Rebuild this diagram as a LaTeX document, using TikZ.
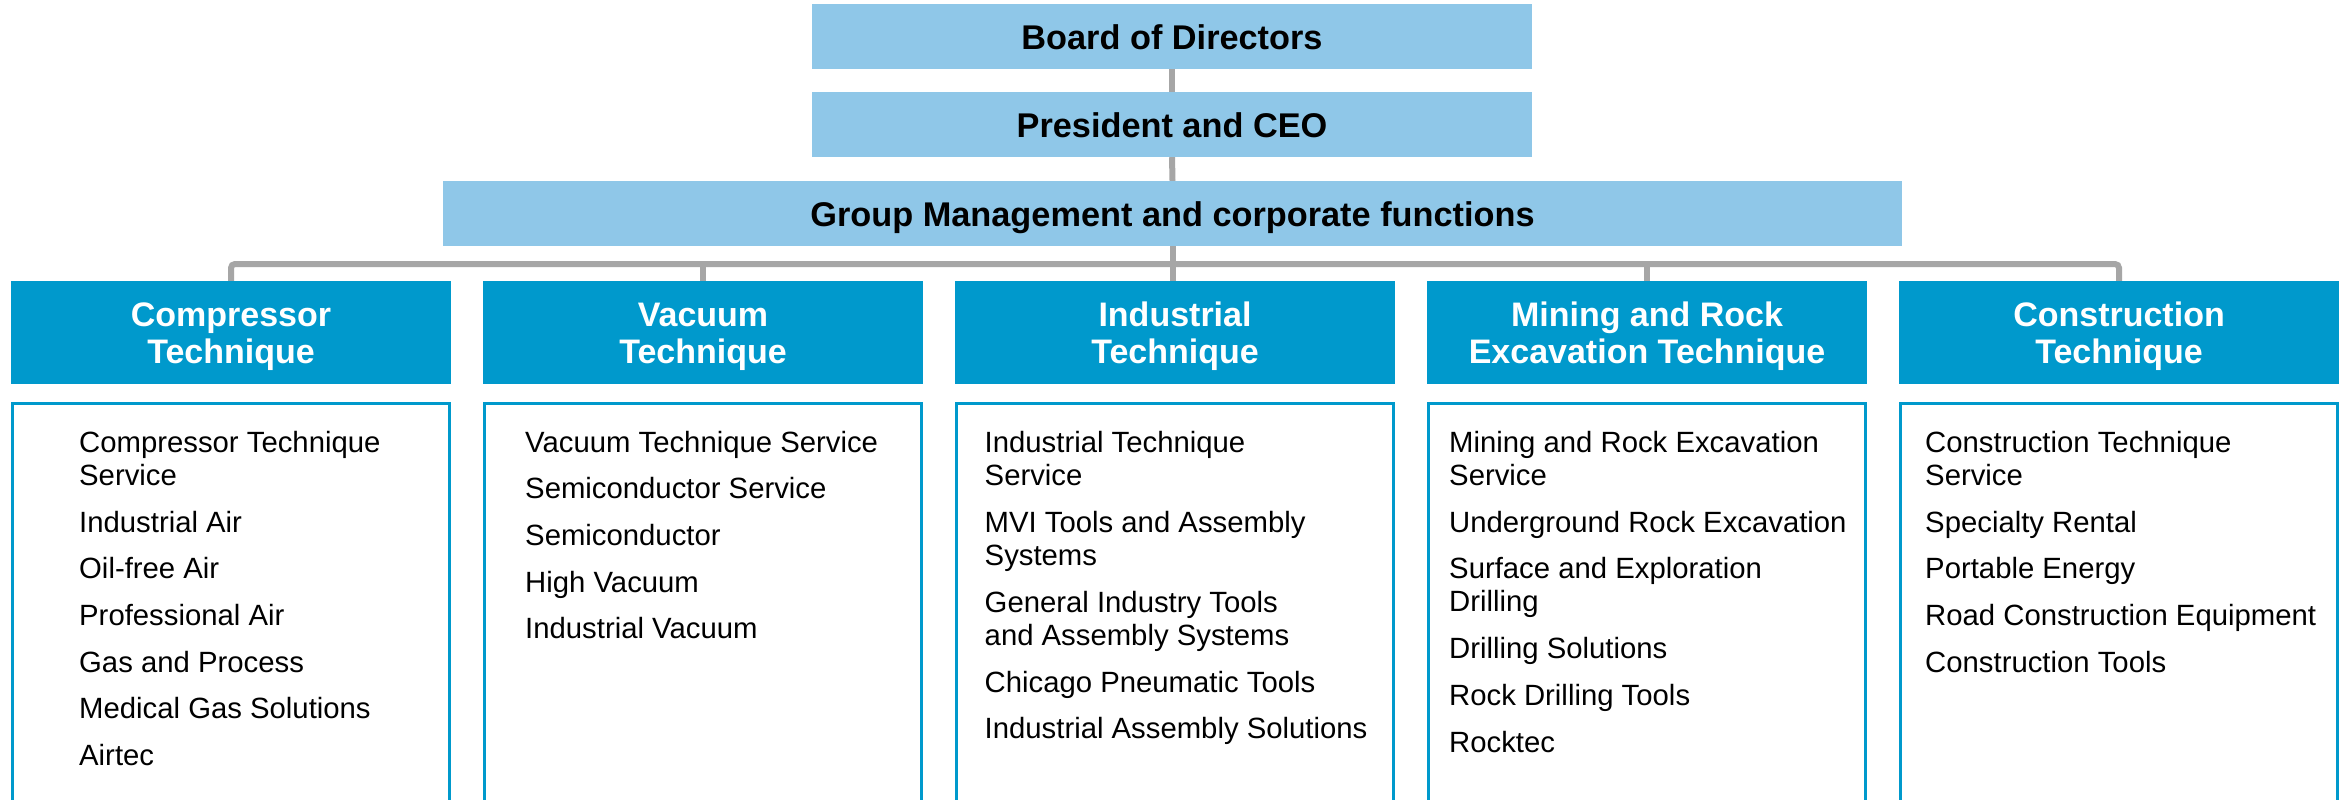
\documentclass[tikz,border=0pt]{standalone}
\usepackage{fontspec}
\setmainfont{Liberation Sans}
\usetikzlibrary{backgrounds}
\definecolor{lightblue}{HTML}{8FC7E8}
\definecolor{darkblue}{HTML}{0099CC}
\definecolor{conngray}{HTML}{A6A6A6}
\begin{document}
\begin{tikzpicture}[x=1pt,y=-1pt,
  topbox/.style={fill=lightblue, draw=none, inner sep=0pt, minimum width=720pt, minimum height=65pt},
  toptext/.style={anchor=base, inner sep=0pt, font=\fontsize{34.3}{37}\selectfont\bfseries, text=black},
  divhead/.style={fill=darkblue, draw=none, inner sep=0pt, minimum width=440pt, minimum height=103pt},
  headtext/.style={anchor=base, inner sep=0pt, font=\fontsize{34}{37}\selectfont\bfseries, text=white},
  listbox/.style={draw=darkblue, line width=3pt, fill=none},
  itemtext/.style={anchor=base west, inner sep=0pt, font=\fontsize{29.3}{33}\selectfont, text=black},
  conn/.style={draw=conngray, line width=6pt}
]
\useasboundingbox (0,0) rectangle (2352,800);
\clip (0,0) rectangle (2352,800);

% top boxes
\node[topbox] (board) at (1172,36.5) {};
\node[topbox] (ceo) at (1172,124.5) {};
\node[topbox, minimum width=1459pt] (gm) at (1172.5,213.5) {};

% division headers
\node[divhead] (h1) at (231,332.5) {};
\node[divhead] (h2) at (703,332.5) {};
\node[divhead] (h3) at (1175,332.5) {};
\node[divhead] (h4) at (1647,332.5) {};
\node[divhead] (h5) at (2119,332.5) {};

% connectors (behind the boxes)
\coordinate (bar) at (0,264);
\begin{pgfonlayer}{background}
\fill[white] (0,0) rectangle (2352,800);
\draw[conn] (board.south) -- (ceo.north);
\draw[conn] (ceo.south) -- (gm.north);
\draw[conn] (gm.south) -- (gm.south |- h3.north);
\draw[conn, rounded corners=4pt] (h1.north) -- (h1.north |- bar) -- (h5.north |- bar) -- (h5.north);
\draw[conn] (h2.north |- bar) -- (h2.north);
\draw[conn] (h4.north |- bar) -- (h4.north);
\end{pgfonlayer}

% top texts
\node[toptext] (boardt) at (1172,49) {Board of Directors};
\node[toptext] (ceot) at (1172,137) {President and CEO};
\node[toptext] (gmt) at (1172.5,226) {Group Management and corporate functions};

% header texts
\node[headtext] (h1t1) at (231,326) {Compressor};
\node[headtext] (h1t2) at (231,363) {Technique};
\node[headtext] (h2t1) at (703,326) {Vacuum};
\node[headtext] (h2t2) at (703,363) {Technique};
\node[headtext] (h3t1) at (1175,326) {Industrial};
\node[headtext] (h3t2) at (1175,363) {Technique};
\node[headtext] (h4t1) at (1647,326) {Mining and Rock};
\node[headtext] (h4t2) at (1647,363) {Excavation Technique};
\node[headtext] (h5t1) at (2119,326) {Construction};
\node[headtext] (h5t2) at (2119,363) {Technique};

% list boxes
\draw[listbox] (12.5,403.5) rectangle (449.5,840);
\draw[listbox] (484.5,403.5) rectangle (921.5,840);
\draw[listbox] (956.5,403.5) rectangle (1393.5,840);
\draw[listbox] (1428.5,403.5) rectangle (1865.5,840);
\draw[listbox] (1900.5,403.5) rectangle (2337.5,840);

% Compressor Technique list
\node[itemtext] (c1a) at (79,452) {Compressor Technique};
\node[itemtext] (c1b) at (79,485) {Service};
\node[itemtext] (c2) at (79,532) {Industrial Air};
\node[itemtext] (c3) at (79,578) {Oil-free Air};
\node[itemtext] (c4) at (79,625) {Professional Air};
\node[itemtext] (c5) at (79,672) {Gas and Process};
\node[itemtext] (c6) at (79,718) {Medical Gas Solutions};
\node[itemtext] (c7) at (79,765) {Airtec};

% Vacuum Technique list
\node[itemtext] (v1) at (525,452) {Vacuum Technique Service};
\node[itemtext] (v2) at (525,498) {Semiconductor Service};
\node[itemtext] (v3) at (525,545) {Semiconductor};
\node[itemtext] (v4) at (525,592) {High Vacuum};
\node[itemtext] (v5) at (525,638) {Industrial Vacuum};

% Industrial Technique list
\node[itemtext] (i1a) at (984.5,452) {Industrial Technique};
\node[itemtext] (i1b) at (984.5,485) {Service};
\node[itemtext] (i2a) at (984.5,532) {MVI Tools and Assembly};
\node[itemtext] (i2b) at (984.5,565) {Systems};
\node[itemtext] (i3a) at (984.5,612) {General Industry Tools};
\node[itemtext] (i3b) at (984.5,645) {and Assembly Systems};
\node[itemtext] (i4) at (984.5,692) {Chicago Pneumatic Tools};
\node[itemtext] (i5) at (984.5,738) {Industrial Assembly Solutions};

% Mining and Rock Excavation Technique list
\node[itemtext] (m1a) at (1449,452) {Mining and Rock Excavation};
\node[itemtext] (m1b) at (1449,485) {Service};
\node[itemtext] (m2) at (1449,532) {Underground Rock Excavation};
\node[itemtext] (m3a) at (1449,578) {Surface and Exploration};
\node[itemtext] (m3b) at (1449,611) {Drilling};
\node[itemtext] (m4) at (1449,658) {Drilling Solutions};
\node[itemtext] (m5) at (1449,705) {Rock Drilling Tools};
\node[itemtext] (m6) at (1449,752) {Rocktec};

% Construction Technique list
\node[itemtext] (k1a) at (1925,452) {Construction Technique};
\node[itemtext] (k1b) at (1925,485) {Service};
\node[itemtext] (k2) at (1925,532) {Specialty Rental};
\node[itemtext] (k3) at (1925,578) {Portable Energy};
\node[itemtext] (k4) at (1925,625) {Road Construction Equipment};
\node[itemtext] (k5) at (1925,672) {Construction Tools};
\end{tikzpicture}
\end{document}
